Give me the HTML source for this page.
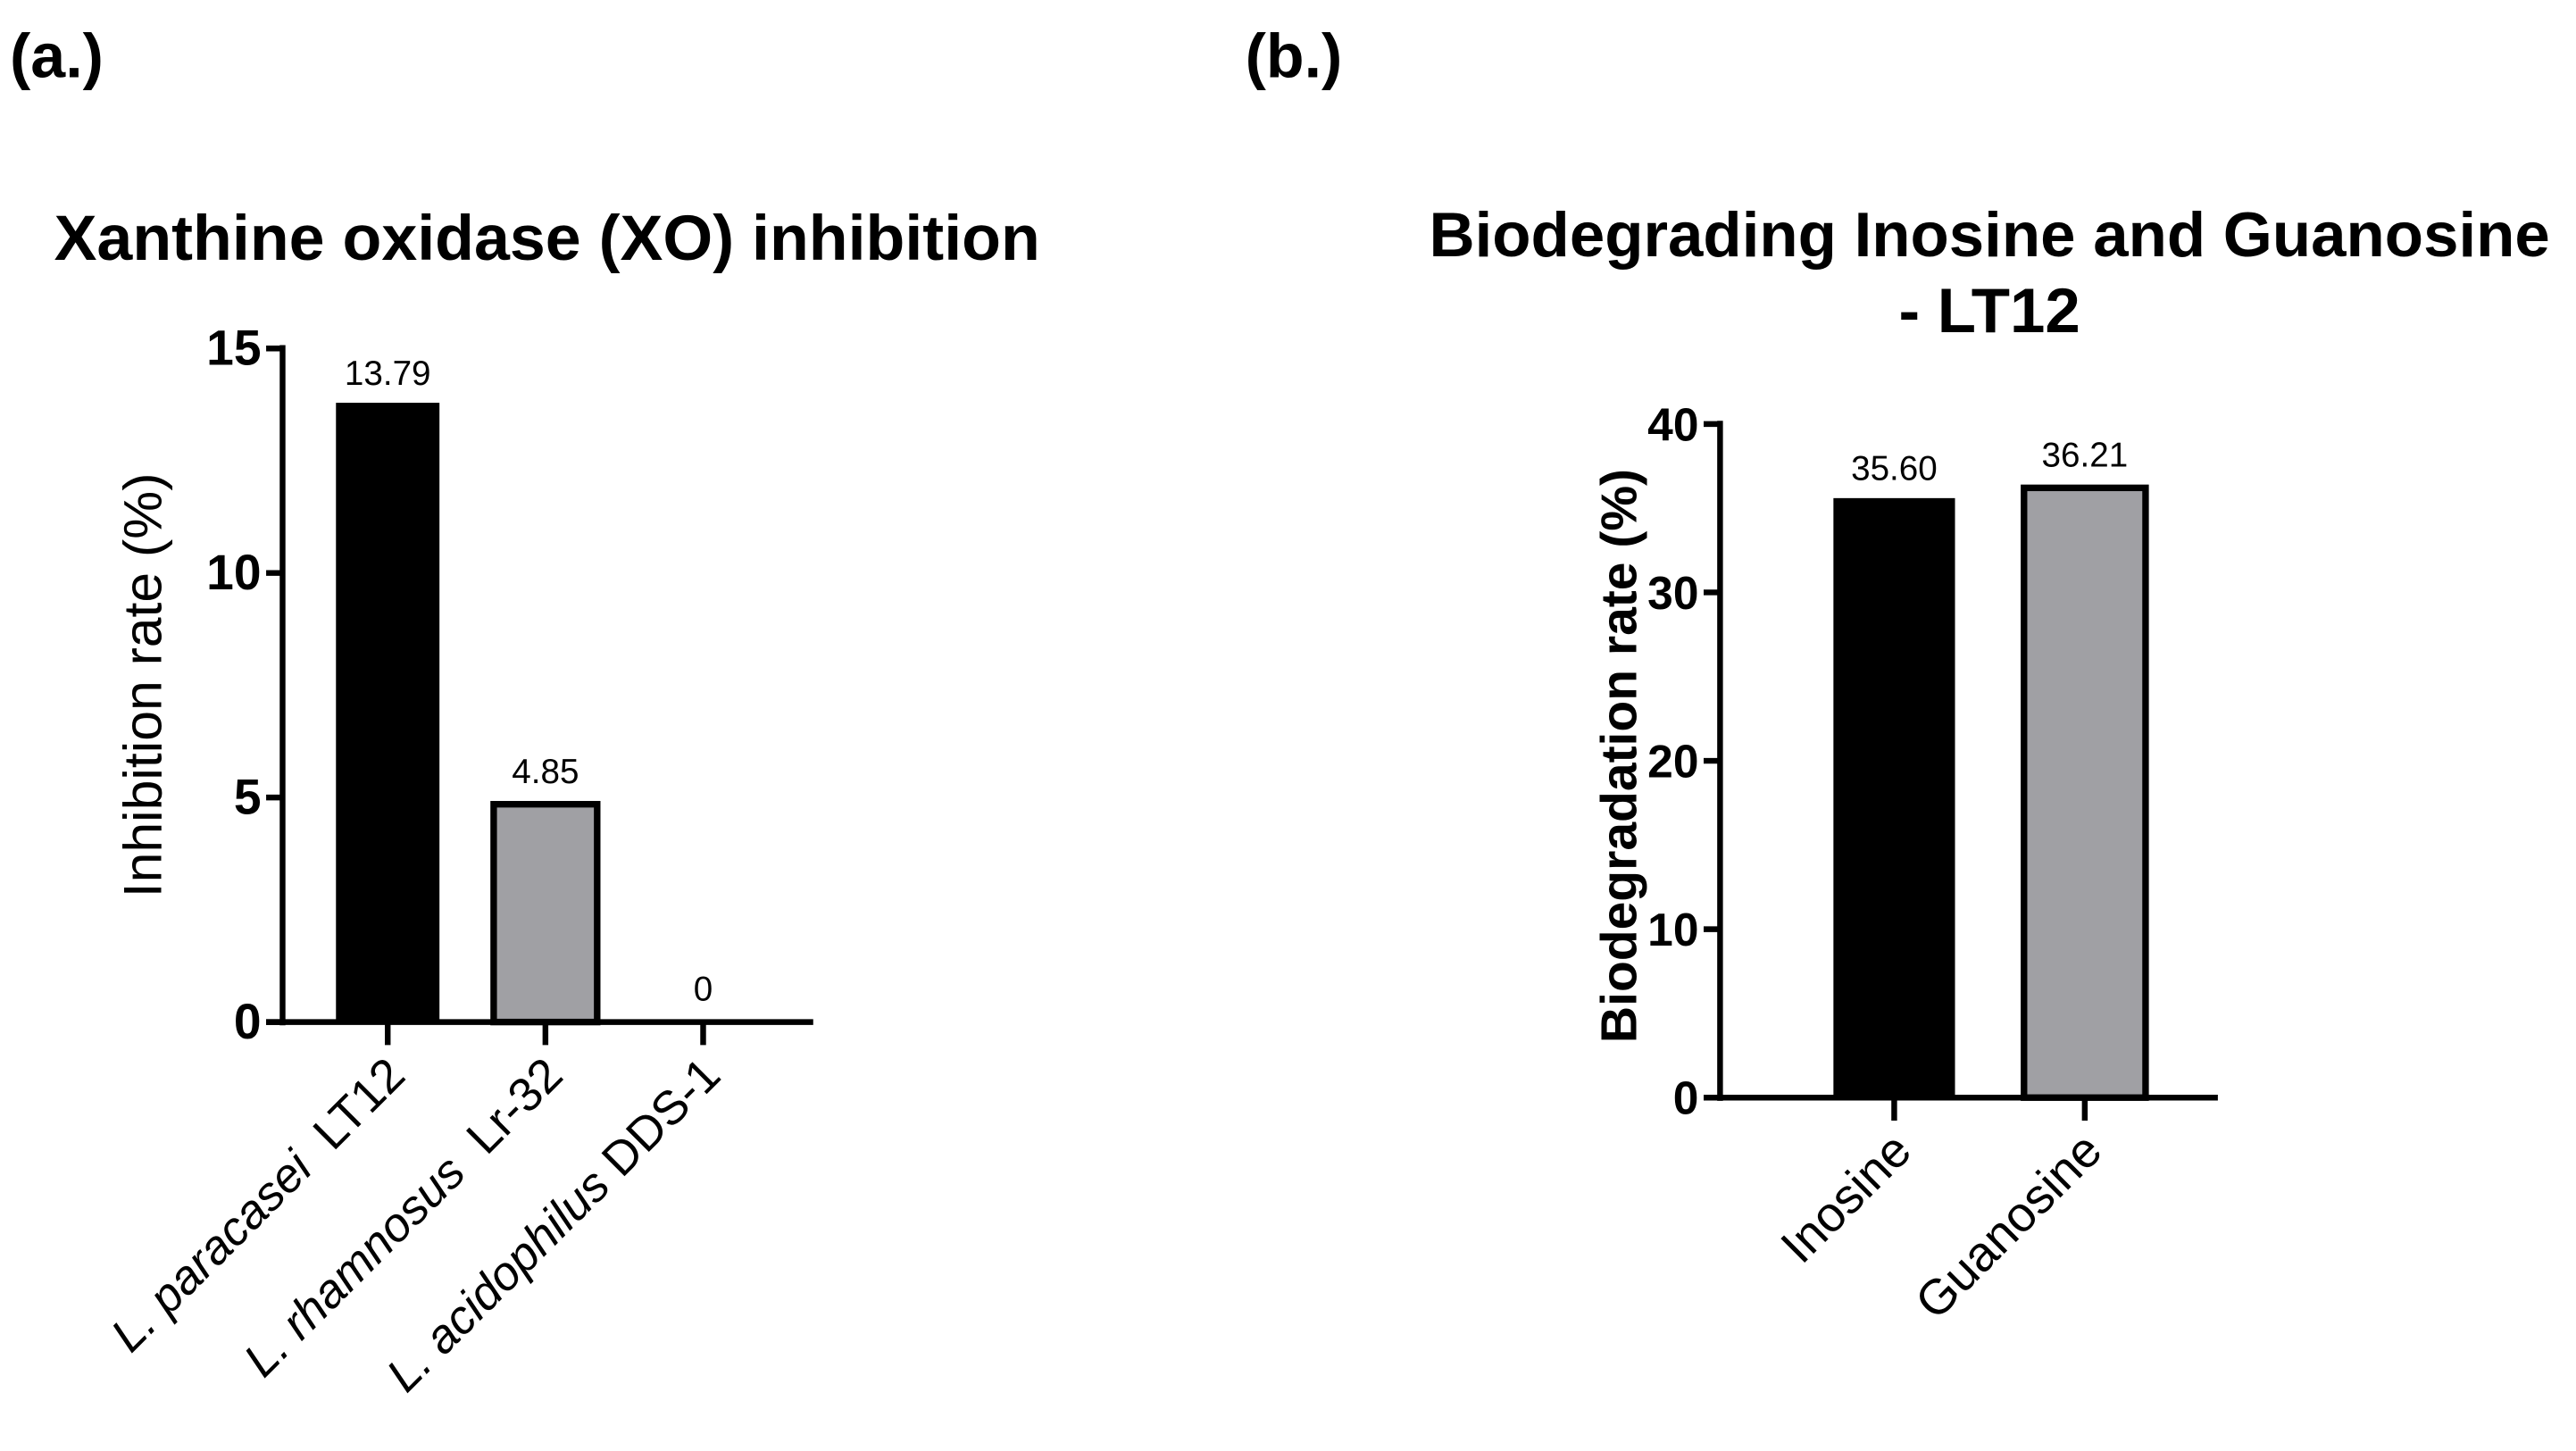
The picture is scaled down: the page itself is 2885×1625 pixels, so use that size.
<!DOCTYPE html>
<html><head><meta charset="utf-8"><style>
html,body{margin:0;padding:0;background:#fff;}
svg{display:block;}
text{font-family:"Liberation Sans",Arial,sans-serif;fill:#000;}
</style></head><body>
<svg id="fig" width="2885" height="1625" viewBox="0 0 1568 883" xmlns="http://www.w3.org/2000/svg">
<rect width="1568" height="883" fill="#fff"/>
<text x="6" y="47" font-size="38" font-weight="bold">(a.)</text>
<text x="758" y="47" font-size="38" font-weight="bold">(b.)</text>
<text x="333" y="158" font-size="39" font-weight="bold" text-anchor="middle">Xanthine oxidase (XO) inhibition</text>
<text x="1211" y="156" font-size="38.5" font-weight="bold" text-anchor="middle">Biodegrading Inosine and Guanosine</text>
<text x="1211" y="202" font-size="38.5" font-weight="bold" text-anchor="middle">- LT12</text>
<text transform="translate(98,417) rotate(-90)" font-size="33" text-anchor="middle">Inhibition rate (%)</text>
<text transform="translate(996,460) rotate(-90)" font-size="31" font-weight="bold" text-anchor="middle">Biodegradation rate (%)</text>
<g id="ga"></g>
<g id="gb"></g>
</svg>
<script>
const aCats = ["L. paracasei|  LT12","L. rhamnosus|  Lr-32","L. acidophilus| DDS-1"];
const aValues = [13.79, 4.85, 0];
const aLabels = ["13.79","4.85","0"];
const aTicks = [0,5,10,15];
const bCats = ["Inosine","Guanosine"];
const bValues = [35.60, 36.21];
const bLabels = ["35.60","36.21"];
const bTicks = [0,10,20,30,40];

const NS="http://www.w3.org/2000/svg";
function mk(parent,tag,attrs,txt){const e=document.createElementNS(NS,tag);for(const k in attrs)e.setAttribute(k,attrs[k]);if(txt!==undefined)e.textContent=txt;parent.appendChild(e);return e;}

function draw(g,cfg){
  const y=v=>cfg.y0-(v/cfg.max)*(cfg.y0-cfg.yTop);
  const xc=i=>cfg.x0c+i*cfg.step;
  cfg.vals.forEach((v,i)=>{
    const fill=i===0?"#000":"#a0a0a4";
    const r=mk(g,"rect",{x:xc(i)-cfg.bw/2,y:y(v),width:cfg.bw,height:cfg.y0-y(v),fill:fill,stroke:"#000","stroke-width":i===0?0:4});
    
    
    const t=mk(g,"text",{x:xc(i),y:y(v)-(i===0?11:13),"font-size":21,"text-anchor":"middle"},cfg.labels[i]);
    
    
    const tk=mk(g,"line",{x1:xc(i),x2:xc(i),y1:cfg.y0,y2:cfg.y0+14,stroke:"#000","stroke-width":3.5});
    
    
    const parts=cfg.cats[i].split("|");
    const ct=mk(g,"text",{transform:`translate(${xc(i)+12},${cfg.y0+34}) rotate(-45)`,"font-size":cfg.catSize,"text-anchor":"end"});
    
    
    if(parts.length>1){mk(ct,"tspan",{"font-style":"italic"},parts[0]);mk(ct,"tspan",{},parts[1].replace(/ /g,"\u00a0"));}
    else ct.textContent=parts[0];
  });
  const ax=mk(g,"line",{x1:cfg.ax,x2:cfg.ax,y1:cfg.yTop-2,y2:cfg.y0+2,stroke:"#000","stroke-width":3.5});
  
  
  const xa=mk(g,"line",{x1:cfg.ax-10,x2:cfg.xEnd,y1:cfg.y0,y2:cfg.y0,stroke:"#000","stroke-width":3.5});
  
  
  cfg.ticks.forEach(v=>{
    const l=mk(g,"line",{x1:cfg.ax-10,x2:cfg.ax,y1:y(v),y2:y(v),stroke:"#000","stroke-width":3.5});
    
    
    const t=mk(g,"text",{x:cfg.ax-13,y:y(v)+10,"font-size":cfg.tickSize,"font-weight":"bold","text-anchor":"end"},String(v));
    
    
  });
}
draw(document.getElementById("ga"),{vals:aValues,labels:aLabels,cats:aCats,ticks:aTicks,max:15,y0:622,yTop:212,ax:172,xEnd:495,x0c:236,step:96,bw:63,catSize:29,tickSize:30});
draw(document.getElementById("gb"),{vals:bValues,labels:bLabels,cats:bCats,ticks:bTicks,max:40,y0:668,yTop:258,ax:1047,xEnd:1350,x0c:1153,step:116,bw:74,catSize:30,tickSize:28});
</script>
</body></html>
